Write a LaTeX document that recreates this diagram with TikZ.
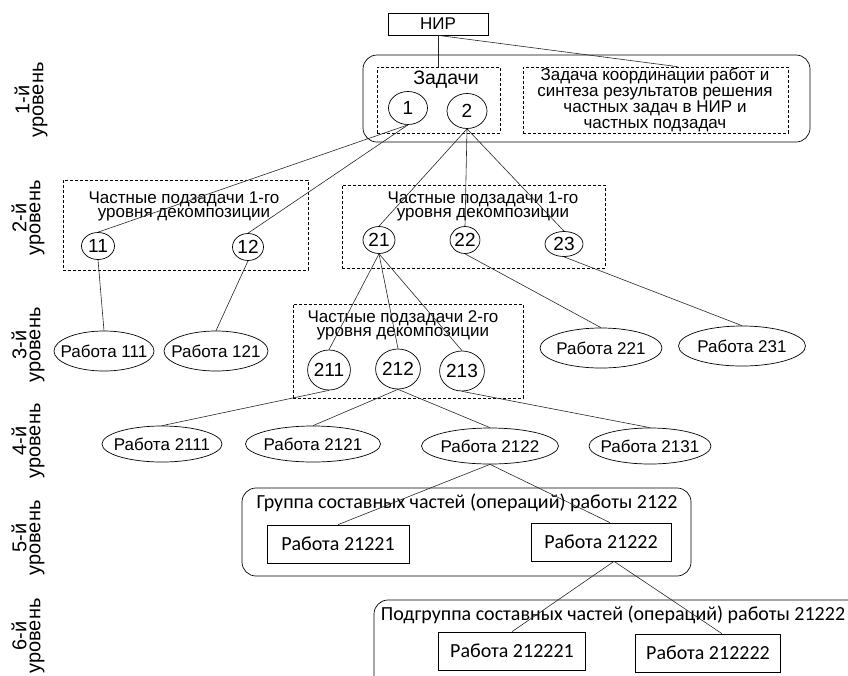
\documentclass[tikz,border=0pt]{standalone}
\usepackage{fontspec}
\setmainfont{Liberation Sans}
\newfontfamily\calfont{Carlito}
\usepackage{tikz}
\usetikzlibrary{shapes.geometric}

\begin{document}
\begin{tikzpicture}[x=1pt, y=-1pt, line width=0.7pt,
    every node/.style={font=\fontsize{17}{14}\selectfont},
    lvl/.style={rotate=90, align=center, font=\fontsize{20}{14}\selectfont},
    task/.style={ellipse, draw, inner sep=0pt, font=\fontsize{19}{20}\selectfont},
    work/.style={ellipse, draw, inner xsep=-15pt, inner ysep=-4pt, minimum height=40pt},
    group/.style={draw, dash pattern=on 3pt off 2pt, inner sep=0pt},
    frame/.style={draw, rounded corners=14pt, inner sep=0pt},
    job/.style={draw, inner sep=0pt, minimum height=38pt, font=\calfont\fontsize{20}{22}\selectfont},
    link/.style={black!85, line width=0.6pt}]
    \useasboundingbox (0,0) rectangle (848,675);
    \clip (0,0) rectangle (848,675);

    % level labels
    \node[lvl] (l1) at (31,100) {1-й\\уровень};
    \node[lvl] (l2) at (28,218) {2-й\\уровень};
    \node[lvl] (l3) at (28,345) {3-й\\уровень};
    \node[lvl] (l4) at (28,441) {4-й\\уровень};
    \node[lvl] (l5) at (28,538) {5-й\\уровень};
    \node[lvl] (l6) at (28,636) {6-й\\уровень};

    % top
    \node[draw, minimum width=100pt, minimum height=22pt, inner sep=0pt] (nir) at (438,24) {НИР};

    % level 1
    \node[frame, minimum width=447pt, minimum height=87pt] (f1) at (586.5,98.5) {};
    \node[group, minimum width=123pt, minimum height=66pt] (g1) at (438.5,100) {};
    \node[group, minimum width=265pt, minimum height=66pt] (g1r) at (655.5,100) {};
    \node[font=\fontsize{19.5}{20}\selectfont] (zad) at (446,80) {Задачи};
    \node[align=center, font=\fontsize{17}{16}\selectfont] (coord) at (655,100)
        {Задача координации работ и\\синтеза результатов решения\\частных задач в НИР и\\частных подзадач};
    \node[task, minimum width=39pt, minimum height=33pt] (t1) at (408,108) {1};
    \node[task, minimum width=40pt, minimum height=35pt] (t2) at (467,111) {2};

    % level 2
    \node[group, minimum width=245pt, minimum height=90pt] (g2a) at (185.5,225) {};
    \node[align=center] (s2a) at (184,206.5) {Частные подзадачи 1-го\\уровня декомпозиции};
    \node[group, minimum width=263pt, minimum height=83pt] (g2b) at (473.5,226.5) {};
    \node[align=center] (s2b) at (483,206.5) {Частные подзадачи 1-го\\уровня декомпозиции};
    \node[task, minimum width=33pt, minimum height=27pt] (t11) at (98,246) {11};
    \node[task, minimum width=31pt, minimum height=27pt] (t12) at (248,247) {12};
    \node[task, minimum width=32pt, minimum height=27pt] (t21) at (379,240) {21};
    \node[task, minimum width=29pt, minimum height=27pt] (t22) at (465,240) {22};
    \node[task, minimum width=38pt, minimum height=25pt] (t23) at (564,244) {23};

    % level 3
    \node[work, minimum width=100pt] (w111) at (104,351) {Работа 111};
    \node[work, minimum width=104pt] (w121) at (216,351) {Работа 121};
    \node[group, minimum width=230pt, minimum height=94pt] (g3) at (408,351) {};
    \node[align=center] (s3) at (403,325) {Частные подзадачи 2-го\\уровня декомпозиции};
    \node[task, minimum width=38pt, minimum height=40pt] (t211) at (329,370) {211};
    \node[task, minimum width=38pt, minimum height=40pt] (t212) at (398,369) {212};
    \node[task, minimum width=38pt, minimum height=40pt] (t213) at (462,371) {213};
    \node[work, minimum width=122pt] (w221) at (601,348) {Работа 221};
    \node[work, minimum width=127pt] (w231) at (742,346) {Работа 231};

    % level 4
    \node[work, minimum width=120pt, minimum height=36pt] (w2111) at (162,444) {Работа 2111};
    \node[work, minimum width=135pt, minimum height=36pt] (w2121) at (313,444) {Работа 2121};
    \node[work, minimum width=137pt, minimum height=36pt] (w2122) at (490,446) {Работа 2122};
    \node[work, minimum width=122pt, minimum height=36pt] (w2131) at (650,446) {Работа 2131};

    % level 5
    \node[frame, minimum width=449pt, minimum height=88pt] (f5) at (466.5,532) {};
    \node[font=\calfont\fontsize{20}{22}\selectfont] (s5) at (467,503)
        {Группа составных частей (операций)  работы 2122};
    \node[job, minimum width=142pt] (r21221) at (338,544) {Работа 21221};
    \node[job, minimum width=140pt] (r21222) at (601,542) {Работа 21222};

    % level 6
    \node[frame, minimum width=506pt, minimum height=100pt] (f6) at (627,650) {};
    \node[font=\calfont\fontsize{20}{22}\selectfont] (s6) at (613,615)
        {Подгруппа составных частей (операций)  работы 21222};
    \node[job, minimum width=147pt] (r212221) at (512,651) {Работа 212221};
    \node[job, minimum width=145pt] (r212222) at (708,653) {Работа 212222};

    % links
    \draw[link] (nir.south) -- (nir.south |- g1.north);
    \draw[link] (nir.south) -- ([xshift=22pt]g1r.north);
    \draw[link] (t1.south) -- (t11.north);
    \draw[link] (t1.south) -- (t12.north);
    \draw[link] (t2.south) -- (t21.north);
    \draw[link] (t2.south) -- (t22.north);
    \draw[link] (t2.south) -- (t23.north);
    \draw[link] (t11.south) -- (w111.north);
    \draw[link] (t12.south) -- (w121.north);
    \draw[link] (t21.south) -- (t211.north);
    \draw[link] (t21.south) -- (t212.north);
    \draw[link] (t21.south) -- (t213.north);
    \draw[link] (t22.south) -- (w221.north);
    \draw[link] (t23.south) -- (w231.north);
    \draw[link] (t211.south) -- (w2111.north);
    \draw[link] (t212.south) -- (w2121.north);
    \draw[link] (t212.south) -- (w2122.north);
    \draw[link] (t213.south) -- (w2131.north);
    \draw[link] (w2122.south) -- (r21221.north);
    \draw[link] (w2122.south) -- ([xshift=9pt]r21222.north);
    \draw[link] ([xshift=13pt]r21222.south) -- (r212221.north);
    \draw[link] ([xshift=13pt]r21222.south) -- ([xshift=14pt]r212222.north);
\end{tikzpicture}
\end{document}
